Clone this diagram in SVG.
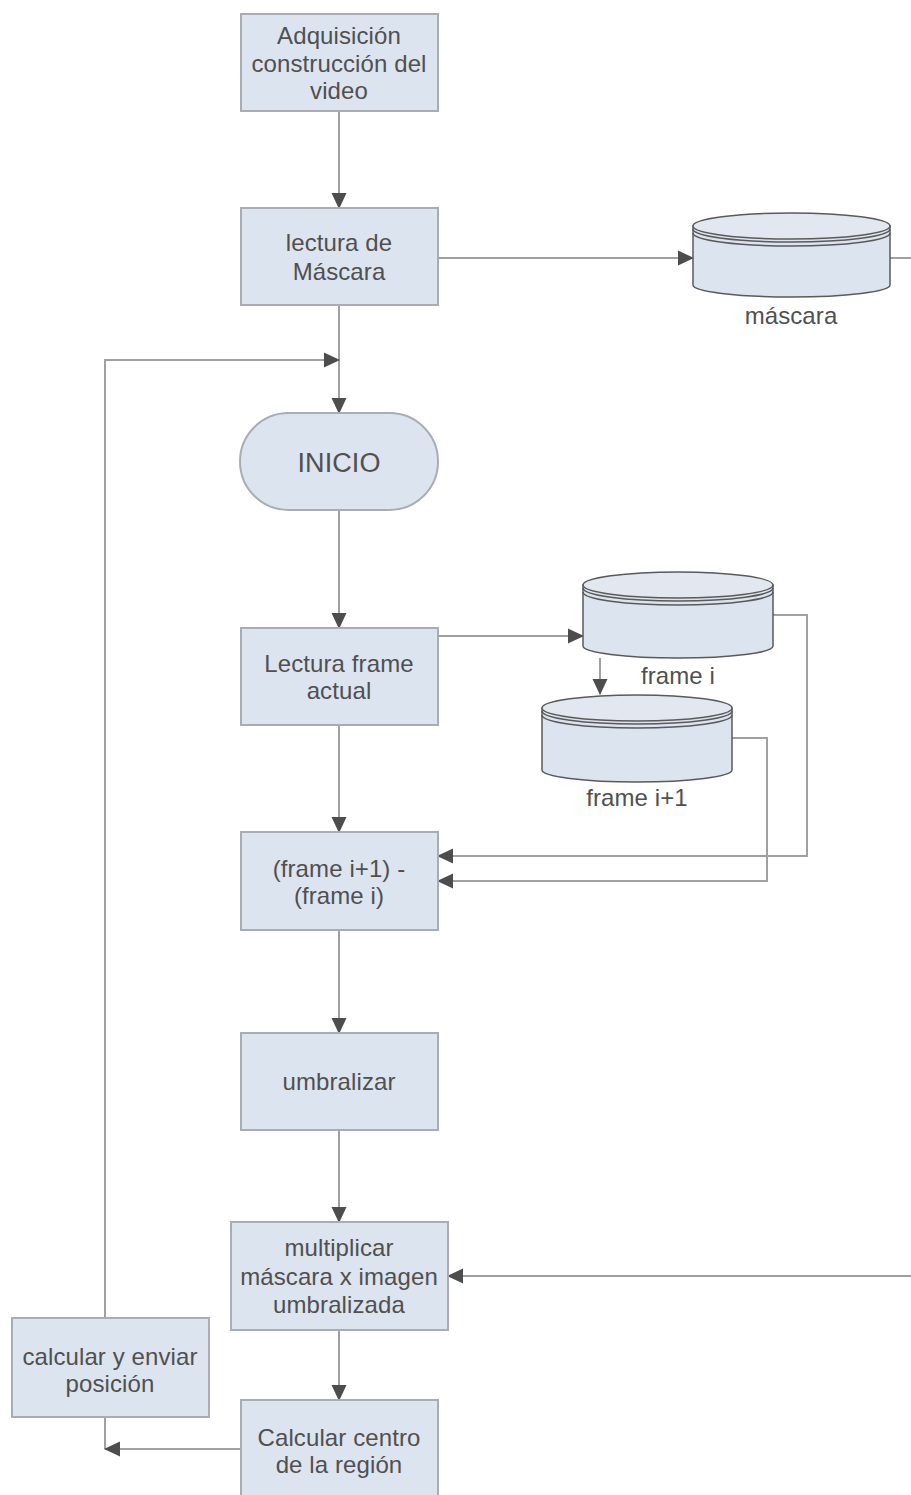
<svg xmlns="http://www.w3.org/2000/svg" width="911" height="1495" viewBox="0 0 911 1495">
<defs>
<marker id="ah" markerWidth="16" markerHeight="16" refX="15" refY="8" orient="auto" markerUnits="userSpaceOnUse">
<path d="M0,0.5 L16,8 L0,15.5 Z" fill="#4d4d4d"/>
</marker>
<style>
.box{fill:#dce4ef;stroke:#a9adb3;stroke-width:2}
.cyl{fill:#dce4ef;stroke:#5a5a5a;stroke-width:1.5}
.cyltop{fill:#e3e8f0;stroke:#5a5a5a;stroke-width:1.5}
.rim{fill:none;stroke:#5a5a5a;stroke-width:1.6}
.c{fill:none;stroke:#a0a0a0;stroke-width:2}
.t{font-family:"Liberation Sans",Arial,sans-serif;font-size:24px;fill:#505050;text-anchor:middle;letter-spacing:0.1px}
</style>
</defs>
<rect width="911" height="1495" fill="#ffffff"/>

<g id="connectors">
<line class="c" x1="339" y1="111" x2="339" y2="208" marker-end="url(#ah)"/>
<line class="c" x1="438" y1="258" x2="693" y2="258" marker-end="url(#ah)"/>
<line class="c" x1="890" y1="258" x2="911" y2="258"/>
<line class="c" x1="339" y1="305" x2="339" y2="413" marker-end="url(#ah)"/>
<polyline class="c" points="105,1449 105,360 339,360" marker-end="url(#ah)"/>
<line class="c" x1="339" y1="510" x2="339" y2="628" marker-end="url(#ah)"/>
<line class="c" x1="438" y1="636" x2="583" y2="636" marker-end="url(#ah)"/>
<line class="c" x1="600" y1="658" x2="600" y2="694" marker-end="url(#ah)"/>
<polyline class="c" points="773,615 807,615 807,856 438,856" marker-end="url(#ah)"/>
<polyline class="c" points="732,738 767,738 767,881 438,881" marker-end="url(#ah)"/>
<line class="c" x1="339" y1="725" x2="339" y2="832" marker-end="url(#ah)"/>
<line class="c" x1="339" y1="930" x2="339" y2="1033" marker-end="url(#ah)"/>
<line class="c" x1="339" y1="1130" x2="339" y2="1222" marker-end="url(#ah)"/>
<line class="c" x1="911" y1="1276" x2="448" y2="1276" marker-end="url(#ah)"/>
<line class="c" x1="339" y1="1330" x2="339" y2="1400" marker-end="url(#ah)"/>
<line class="c" x1="241" y1="1449" x2="105" y2="1449" marker-end="url(#ah)"/>
</g>

<g id="n1">
<rect class="box" x="241" y="14" width="197" height="97"/>
<text class="t" x="339" y="44">Adquisición</text>
<text class="t" x="339" y="72">construcción del</text>
<text class="t" x="339" y="99">video</text>
</g>

<g id="n2">
<rect class="box" x="241" y="208" width="197" height="97"/>
<text class="t" x="339" y="251">lectura de</text>
<text class="t" x="339" y="280">Máscara</text>
</g>

<g id="mascara">
<path class="cyl" d="M693,226 L693,285 A98.5,12 0 0 0 890,285 L890,226 Z"/>
<ellipse class="cyltop" cx="791.5" cy="226" rx="98.5" ry="13"/>
<path class="rim" d="M693,229 A98.5,13 0 0 0 890,229"/>
<path class="rim" d="M693,233 A98.5,13 0 0 0 890,233"/>
<text class="t" x="791" y="324">máscara</text>
</g>

<g id="inicio">
<rect class="box" x="240" y="413" width="198" height="97" rx="48.5" ry="48.5"/>
<text class="t" x="339" y="472" style="font-size:27px">INICIO</text>
</g>

<g id="n3">
<rect class="box" x="241" y="628" width="197" height="97"/>
<text class="t" x="339" y="672">Lectura frame</text>
<text class="t" x="339" y="699">actual</text>
</g>

<g id="framei">
<path class="cyl" d="M583,585 L583,646 A95,12 0 0 0 773,646 L773,585 Z"/>
<ellipse class="cyltop" cx="678" cy="585" rx="95" ry="13"/>
<path class="rim" d="M583,588 A95,13 0 0 0 773,588"/>
<path class="rim" d="M583,592 A95,13 0 0 0 773,592"/>
<text class="t" x="678" y="684">frame i</text>
</g>

<g id="framei1">
<path class="cyl" d="M542,708 L542,770 A95,12 0 0 0 732,770 L732,708 Z"/>
<ellipse class="cyltop" cx="637" cy="708" rx="95" ry="13"/>
<path class="rim" d="M542,711 A95,13 0 0 0 732,711"/>
<path class="rim" d="M542,715 A95,13 0 0 0 732,715"/>
<text class="t" x="637" y="806">frame i+1</text>
</g>

<g id="n4">
<rect class="box" x="241" y="832" width="197" height="98"/>
<text class="t" x="339" y="877">(frame i+1) -</text>
<text class="t" x="339" y="904">(frame i)</text>
</g>

<g id="n5">
<rect class="box" x="241" y="1033" width="197" height="97"/>
<text class="t" x="339" y="1090">umbralizar</text>
</g>

<g id="n6">
<rect class="box" x="231" y="1222" width="217" height="108"/>
<text class="t" x="339" y="1256">multiplicar</text>
<text class="t" x="339" y="1285">máscara x imagen</text>
<text class="t" x="339" y="1313">umbralizada</text>
</g>

<g id="n7">
<rect class="box" x="12" y="1318" width="197" height="99"/>
<text class="t" x="110" y="1365">calcular y enviar</text>
<text class="t" x="110" y="1392">posición</text>
</g>

<g id="n8">
<rect class="box" x="241" y="1400" width="197" height="97"/>
<text class="t" x="339" y="1446">Calcular centro</text>
<text class="t" x="339" y="1473">de la región</text>
</g>
</svg>
